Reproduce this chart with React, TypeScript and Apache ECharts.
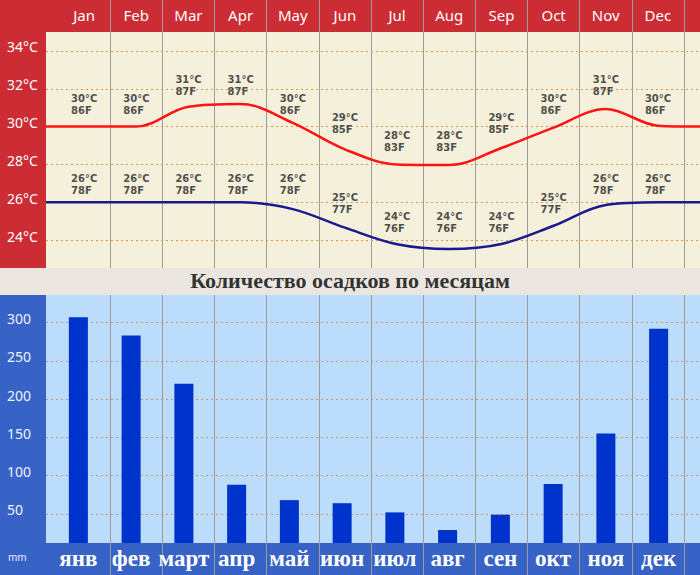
import React, { useEffect, useRef } from 'react';
import * as echarts from 'echarts';

const monthsEn = ['Jan', 'Feb', 'Mar', 'Apr', 'May', 'Jun', 'Jul', 'Aug', 'Sep', 'Oct', 'Nov', 'Dec'];
const monthsRu = ['янв', 'фев', 'март', 'апр', 'май', 'июн', 'июл', 'авг', 'сен', 'окт', 'ноя', 'дек'];
const highC = [30, 30, 31, 31, 30, 29, 28, 28, 29, 30, 31, 30];
const highF = [86, 86, 87, 87, 86, 85, 83, 83, 85, 86, 87, 86];
const lowC = [26, 26, 26, 26, 26, 25, 24, 24, 24, 25, 26, 26];
const lowF = [78, 78, 78, 78, 78, 77, 76, 76, 76, 77, 78, 78];
// curves as drawn (°C) at each month centre
const highCurve = [30, 30, 31.05, 31.2, 30.2, 28.8, 28.0, 27.97, 28.87, 29.95, 30.93, 30.05];
const lowCurve = [26, 26, 26, 26, 25.64, 24.66, 23.78, 23.53, 23.8, 24.76, 25.86, 26];
// curve values at the left and right edges of the plot
const highEdges = [30, 30];
const lowEdges = [26, 26];
// rainfall, mm
const rainfall = [307, 283, 220, 88, 68, 64, 52, 29, 49, 89, 155, 292];

const X_MIN = -0.73;
const X_MAX = 11.807;

const curveData = (vals: number[], edges: number[]) => [
  [X_MIN, edges[0]],
  ...vals.map((v, i) => [i, v]),
  [X_MAX, edges[1]],
];

const labelFont = {
  fontFamily: 'DejaVu Sans',
  fontWeight: 'bold' as const,
  fontSize: 10,
  lineHeight: 12,
  color: '#222',
};

export default function App() {
  const ref = useRef<HTMLDivElement>(null);
  useEffect(() => {
    if (!ref.current) return;
    const chart = echarts.init(ref.current, undefined, { renderer: 'svg' });
    const grids = [
      { left: 46, right: 0, top: 32, height: 246 },
      { left: 58, right: 16, top: 0, height: 268 },
      { left: 46, right: 0, top: 295, bottom: 23 },
      { left: 58, right: 16, top: 295, bottom: 0 },
      { left: 52, right: 15, top: 295, bottom: 32 },
    ].map((g) => ({ ...g, containLabel: false, outerBoundsMode: 'none' }));

    const sepLine = { show: true, interval: 0, showMinLine: false, lineStyle: { color: '#9c9c9c', width: 1 } };

    chart.setOption({
      animation: false,
      backgroundColor: '#ffffff',
      title: {
        text: 'Количество осадков по месяцам',
        left: 'center',
        top: 269,
        padding: [0, 0, 0, 9],
        textStyle: { fontFamily: 'Liberation Serif', fontWeight: 'bold', fontSize: 22, color: '#333' },
      },
      graphic: [
        { type: 'rect', z: -10, shape: { x: 0, y: 0, width: 700, height: 268 }, style: { fill: '#cc2c33' } },
        { type: 'rect', z: -9, shape: { x: 46, y: 32, width: 654, height: 236 }, style: { fill: '#f4f0dc' } },
        { type: 'rect', z: -10, shape: { x: 0, y: 268, width: 700, height: 27 }, style: { fill: '#ebe7e0' } },
        { type: 'rect', z: -10, shape: { x: 0, y: 295, width: 700, height: 280 }, style: { fill: '#3763c6' } },
        { type: 'rect', z: -9, shape: { x: 46, y: 295, width: 654, height: 248 }, style: { fill: '#bcdcfb' } },
        {
          type: 'text', z: 10, x: 8, y: 557,
          style: { text: 'mm', fill: '#e8eefc', fontSize: 10, fontFamily: 'Noto Sans', verticalAlign: 'middle' },
        },
      ],
      grid: grids,
      xAxis: [
        { gridIndex: 0, type: 'value', min: X_MIN, max: X_MAX, show: false },
        {
          gridIndex: 1, type: 'category', data: monthsEn, position: 'top',
          axisLine: { show: false }, axisTick: { show: false },
          axisLabel: { inside: true, interval: 0, margin: 7, color: '#ffffff', fontSize: 15, fontFamily: 'Noto Sans' },
          splitLine: sepLine,
        },
        { gridIndex: 2, type: 'value', show: false },
        {
          gridIndex: 3, type: 'category', data: monthsEn,
          axisLine: { show: false }, axisTick: { show: false }, axisLabel: { show: false },
          splitLine: sepLine,
        },
        {
          gridIndex: 4, type: 'category', data: monthsRu, position: 'bottom',
          axisLine: { show: false }, axisTick: { show: false },
          axisLabel: {
            interval: 0, margin: 4, color: '#ffffff', fontSize: 23,
            fontFamily: 'Liberation Serif', fontWeight: 'bold',
          },
        },
      ],
      yAxis: [
        {
          gridIndex: 0, type: 'value', min: 22, max: 35, interval: 2,
          axisLine: { show: false }, axisTick: { show: false },
          axisLabel: {
            formatter: '{value}°C', align: 'left', margin: 39, color: '#ffffff',
            fontSize: 14, fontFamily: 'Noto Sans', showMinLabel: false, showMaxLabel: false,
            verticalAlign: 'bottom', lineHeight: 8,
          },
          splitLine: { show: true, showMinLine: false, showMaxLine: false, lineStyle: { color: '#e39448', type: [2, 3], width: 1 } },
        },
        { gridIndex: 1, type: 'value', show: false },
        {
          gridIndex: 2, type: 'value', min: 0, max: 336, interval: 50,
          axisLine: { show: false }, axisTick: { show: false },
          axisLabel: {
            align: 'left', margin: 39, color: '#eef2fd',
            fontSize: 14, fontFamily: 'Noto Sans', showMinLabel: false, showMaxLabel: false,
            verticalAlign: 'bottom', lineHeight: 8,
          },
          splitLine: { show: true, showMinLine: false, showMaxLine: false, lineStyle: { color: '#cf9478', type: [2, 3], width: 1 } },
        },
        { gridIndex: 3, type: 'value', show: false },
        { gridIndex: 4, type: 'value', min: 12, max: 336, show: false },
      ],
      series: [
        {
          type: 'line', xAxisIndex: 0, yAxisIndex: 0, data: curveData(highCurve, highEdges),
          smooth: 0.35, symbol: 'none', lineStyle: { color: '#ff1414', width: 2.5 }, z: 3,
        },
        {
          type: 'line', xAxisIndex: 0, yAxisIndex: 0, data: curveData(lowCurve, lowEdges),
          smooth: 0.35, symbol: 'none', lineStyle: { color: '#1a1a8e', width: 2.5 }, z: 3,
        },
        {
          type: 'scatter', xAxisIndex: 0, yAxisIndex: 0,
          data: highC.map((c, i) => [i, c]),
          symbol: 'circle', symbolSize: 1, itemStyle: { color: 'rgba(0,0,0,0)' }, z: 4,
          label: {
            show: true, position: 'top', distance: 10, align: 'left', offset: [-13, 0],
            formatter: (p: any) => `${highC[p.dataIndex]}°C\n${highF[p.dataIndex]}F`,
            ...labelFont,
          },
        },
        {
          type: 'scatter', xAxisIndex: 0, yAxisIndex: 0,
          data: lowC.map((c, i) => [i, c]),
          symbol: 'circle', symbolSize: 1, itemStyle: { color: 'rgba(0,0,0,0)' }, z: 4,
          label: {
            show: true, position: 'top', distance: 5, align: 'left', offset: [-13, 0],
            formatter: (p: any) => `${lowC[p.dataIndex]}°C\n${lowF[p.dataIndex]}F`,
            ...labelFont,
          },
        },
        {
          type: 'bar', xAxisIndex: 4, yAxisIndex: 4, data: rainfall,
          barWidth: 19, itemStyle: { color: '#0033cc' }, clip: true,
        },
      ],
    });
    return () => chart.dispose();
  }, []);
  return <div ref={ref} style={{ width: 700, height: 575, position: 'absolute', left: 0, top: 0 }} />;
}
